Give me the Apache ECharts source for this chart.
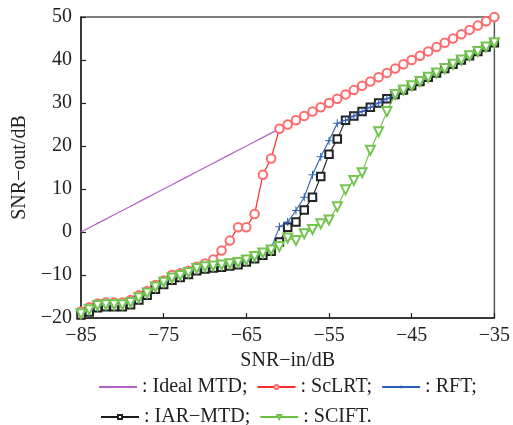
<!DOCTYPE html>
<html>
<head>
<meta charset="utf-8">
<script src="https://cdn.jsdelivr.net/npm/echarts@6/dist/echarts.min.js"></script>
<style>
html,body{margin:0;padding:0;background:#fff;}
#chart{width:513px;height:425px;}
</style>
</head>
<body>
<div id="chart"></div>
<script>
// SNR-in (dB) sample points
const snrIn = [-85,-84,-83,-82,-81,-80,-79,-78,-77,-76,-75,-74,-73,-72,-71,-70,-69,-68,-67,-66,-65,-64,-63,-62,-61,-60,-59,-58,-57,-56,-55,-54,-53,-52,-51,-50,-49,-48,-47,-46,-45,-44,-43,-42,-41,-40,-39,-38,-37,-36,-35];

const idealMTD = [0,1,2,3,4,5,6,7,8,9,10,11,12,13,14,15,16,17,18,19,20,21,22,23,24,25,26,27,28,29,30,31,32,33,34,35,36,37,38,39,40,41,42,43,44,45,46,47,48,49,50];

const scLRT = [-18.5,-17.5,-16.6,-16.4,-16.4,-16.4,-15.8,-14.7,-13.7,-12.3,-11.3,-10.0,-9.6,-9.0,-8.1,-7.3,-6.4,-4.3,-2.0,1.1,1.1,4.2,13.3,17.1,24,25,26,27,28,29,30,31,32,33,34,35,36,37,38,39,40,41,42,43,44,45,46,47,48,49,50];

const rft = [-19.0,-18.2,-17.2,-17.0,-17.0,-17.0,-16.5,-15.4,-14.3,-12.9,-11.8,-10.8,-10.2,-9.5,-8.6,-8.2,-8.0,-7.8,-7.5,-7.2,-6.6,-5.8,-5.0,-3.8,1.2,2.3,5.0,8.1,13.3,17.5,21.2,25.3,26.0,27,28,29,30,31,32,33,34,35,36,37,38,39,40,41,42,43,44];

const iarMTD = [-19.3,-18.6,-17.6,-17.4,-17.4,-17.4,-16.9,-15.8,-14.7,-13.3,-12.2,-11.2,-10.6,-9.9,-9.0,-8.6,-8.4,-8.2,-7.9,-7.6,-7.0,-6.2,-5.4,-4.5,-2.3,1.1,2.3,5.1,8.1,12.9,18.1,21.6,26.0,27,28,29,30,31,32,33,34,35,36,37,38,39,40,41,42,43,44];

const scift = [-19.0,-18.1,-17.1,-16.9,-16.9,-16.9,-16.4,-15.3,-14.2,-12.8,-11.7,-10.7,-10.1,-9.4,-8.5,-8.1,-7.9,-7.7,-7.4,-7.1,-6.5,-5.7,-4.9,-4.2,-3.4,-1.4,-2.0,-0.4,0.6,1.9,2.8,5.9,9.8,12.0,13.8,19.0,23.3,28.0,32,33,34,35,36,37,38,39,40,41,42,43,44];

const seriesNames = ['Ideal MTD','ScLRT','RFT','IAR\u2212MTD','SCIFT'];
const legendRow1 = ['Ideal MTD','ScLRT','RFT'];
const legendRow2 = ['IAR\u2212MTD','SCIFT'];

const xTicks = {min:-85, max:-35, interval:10};
const yTicks = {min:-20, max:50, interval:10};

function pairs(vals){ return snrIn.map((x,i)=>[x, vals[i]]); }
const FONT = 'Liberation Serif';
const minusFmt = v => (v < 0 ? '\u2212' + Math.abs(v) : String(v));
const legendFmt = n => ': ' + n + (n === 'SCIFT' ? '.' : ';');

const chart = echarts.init(document.getElementById('chart'), null, {renderer:'canvas'});
const axisCommon = {
  axisLine:{show:true, onZero:false, lineStyle:{color:'#222', width:1.5}},
  axisTick:{show:true, inside:true, length:5, lineStyle:{color:'#222', width:1.2}},
  splitLine:{show:false},
  axisLabel:{color:'#222', fontFamily:FONT, fontSize:20, formatter:minusFmt},
  nameTextStyle:{color:'#222', fontFamily:FONT, fontSize:20},
  nameLocation:'middle'
};
const plus = 'path://M4.35,0H5.65V4.35H10V5.65H5.65V10H4.35V5.65H0V4.35H4.35Z';

chart.setOption({
  animation:false,
  backgroundColor:'#fff',
  grid:{left:81, right:18, top:17, bottom:107, show:true, borderColor:'#555', borderWidth:1.5},
  xAxis:Object.assign({}, axisCommon, {type:'value', min:xTicks.min, max:xTicks.max, interval:xTicks.interval,
    name:'SNR\u2212in/dB', nameGap:33,
    axisLabel:Object.assign({}, axisCommon.axisLabel, {margin:8})}),
  yAxis:Object.assign({}, axisCommon, {type:'value', min:yTicks.min, max:yTicks.max, interval:yTicks.interval,
    name:'SNR\u2212out/dB', nameGap:32, nameRotate:90,
    axisLabel:Object.assign({}, axisCommon.axisLabel, {margin:9})}),
  legend:[
    {data:[{name:legendRow1[0], itemStyle:{opacity:0}}, legendRow1[1], legendRow1[2]],
     left:93, top:372, itemWidth:38, itemHeight:5, itemGap:9,
     textStyle:{fontFamily:FONT, fontSize:20, color:'#222'}, formatter:legendFmt},
    {data:legendRow2, left:95, top:402, itemWidth:38, itemHeight:5, itemGap:9,
     textStyle:{fontFamily:FONT, fontSize:20, color:'#222'}, formatter:legendFmt}
  ],
  series:[
    {name:seriesNames[0], type:'line', data:pairs(idealMTD), showSymbol:false, symbol:'none',
     lineStyle:{color:'#b462c4', width:1.2}, itemStyle:{color:'#b462c4'}, z:1},
    {name:seriesNames[1], type:'line', data:pairs(scLRT), symbol:'emptyCircle', symbolSize:8.5,
     lineStyle:{color:'#ff2a2a', width:1.2}, itemStyle:{color:'#ff6a6a', borderWidth:0.8}, z:2},
    {name:seriesNames[3], type:'line', data:pairs(iarMTD), symbol:'emptyRect', symbolSize:7.5,
     lineStyle:{color:'#1a1a1a', width:1.1}, itemStyle:{color:'#222', borderWidth:1}, z:3},
    {name:seriesNames[2], type:'line', data:pairs(rft), symbol:plus, symbolSize:8,
     lineStyle:{color:'#2d5db8', width:1.1}, itemStyle:{color:'#2d5db8'}, z:4},
    {name:seriesNames[4], type:'line', data:pairs(scift), symbol:'emptyTriangle', symbolRotate:180, symbolSize:9,
     lineStyle:{color:'#6cc046', width:1.1}, itemStyle:{color:'#74c452', borderWidth:0.9}, z:5}
  ]
});
</script>
</body>
</html>
